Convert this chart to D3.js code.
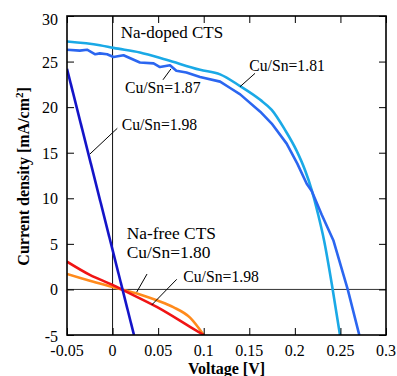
<!DOCTYPE html>
<html>
<head>
<meta charset="utf-8">
<script src="https://cdn.jsdelivr.net/npm/d3@7"></script>
<style>
  html, body { margin: 0; padding: 0; background: #fff; }
  svg { display: block; }
</style>
</head>
<body>
<svg id="chart" width="397" height="376"></svg>
<script>
// ---- data ----
const xTicks = [-0.05, 0, 0.05, 0.1, 0.15, 0.2, 0.25, 0.3];
const yTicks = [-5, 0, 5, 10, 15, 20, 25, 30];
const xTickLabels = ["-0.05", "0", "0.05", "0.1", "0.15", "0.2", "0.25", "0.3"];
const yTickLabels = ["-5", "0", "5", "10", "15", "20", "25", "30"];

const seriesNames = ["Na-doped Cu/Sn=1.81", "Na-doped Cu/Sn=1.87", "Na-doped Cu/Sn=1.98", "Na-free Cu/Sn=1.80", "Na-free Cu/Sn=1.98"];

const v181 = [-0.05, -0.014, 0.001, 0.030, 0.059, 0.096, 0.118, 0.140, 0.162, 0.1746, 0.1892, 0.202, 0.2111, 0.2185, 0.2257, 0.232, 0.2415, 0.2495];
const j181 = [27.2, 26.8, 26.5, 26.0, 25.2, 24.1, 23.6, 22.3, 20.8, 19.7, 17.5, 15.2, 13.1, 10.9, 8.16, 5.4, 0, -5];

const v187 = [-0.05, -0.036, -0.028, -0.019, -0.014, -0.006, 0.001, 0.012, 0.030, 0.045, 0.052, 0.063, 0.070, 0.081, 0.096, 0.118, 0.129, 0.140, 0.162, 0.1746, 0.191, 0.2027, 0.213, 0.2185, 0.2295, 0.2422, 0.258, 0.2707];
const j187 = [26.3, 26.2, 26.3, 25.8, 25.9, 25.8, 25.5, 25.7, 24.9, 24.8, 24.4, 24.6, 24.0, 23.8, 23.3, 22.8, 22.1, 21.4, 19.5, 18.2, 16.0, 13.8, 11.6, 10.8, 8.2, 5.4, 0, -5];

const v198d = [-0.05, 0.0235];
const j198d = [24.2, -5];

const v180f = [-0.05, -0.025, 0.001, 0.012, 0.049, 0.085, 0.1];
const j180f = [3.05, 1.6, 0.45, -0.1, -1.95, -4.1, -5.0];

const v198f = [-0.05, -0.025, 0.001, 0.012, 0.03, 0.05, 0.0666, 0.085, 0.1];
const j198f = [1.7, 0.95, 0.25, -0.05, -0.55, -1.25, -1.95, -3.1, -5];

const seriesColors = ["#1aa9e6", "#2b66f0", "#1414c8", "#f01414", "#ff8a1c"];

// annotation texts and anchor positions (data units)
const labelTexts = ["Na-doped CTS", "Cu/Sn=1.87", "Cu/Sn=1.81", "Cu/Sn=1.98", "Na-free CTS", "Cu/Sn=1.80", "Cu/Sn=1.98"];
const labelV = [0.0089, 0.0136, 0.150, 0.010, 0.0155, 0.0155, 0.0776];
const labelJ = [27.6, 21.5, 23.96, 17.49, 5.53, 3.48, 0.845];
const labelSize = [17, 15.7, 15.7, 15.7, 17.4, 17.4, 15.7];

const leaderV1 = [0.0553, 0.1398, -0.0248, 0.0265, 0.0429];
const leaderJ1 = [23.0, 22.24, 14.86, -0.29, -1.71];
const leaderV2 = [0.0641, 0.1563, 0.0052, 0.0378, 0.0704];
const leaderJ2 = [24.2, 23.71, 17.68, 1.69, 1.11];

// ---- layout ----
const W = 397, H = 376;
const FONT = "'Liberation Serif', 'Times New Roman', serif";
const margin = { left: 67, right: 11, top: 16, bottom: 41 };
const iw = W - margin.left - margin.right;
const ih = H - margin.top - margin.bottom;

const svg = d3.select("#chart");
const g = svg.append("g").attr("transform", `translate(${margin.left},${margin.top})`);

const x = d3.scaleLinear().domain([-0.05, 0.3]).range([0, iw]);
const y = d3.scaleLinear().domain([-5, 30]).range([ih, 0]);

g.append("clipPath").attr("id", "clip")
  .append("rect").attr("x", 0).attr("y", 0).attr("width", iw).attr("height", ih);

// zero lines
g.append("line").attr("x1", 0).attr("x2", iw).attr("y1", y(0)).attr("y2", y(0))
  .attr("stroke", "#333").attr("stroke-width", 1);
g.append("line").attr("x1", x(0)).attr("x2", x(0)).attr("y1", 0).attr("y2", ih)
  .attr("stroke", "#111").attr("stroke-width", 1);

// series
const series = [
  { v: v181, j: j181, curve: d3.curveMonotoneX },
  { v: v187, j: j187, curve: d3.curveLinear },
  { v: v198d, j: j198d, curve: d3.curveLinear },
  { v: v180f, j: j180f, curve: d3.curveMonotoneX },
  { v: v198f, j: j198f, curve: d3.curveMonotoneX }
];
const plot = g.append("g").attr("clip-path", "url(#clip)");
const drawOrder = [4, 3, 2, 0, 1];
drawOrder.forEach(i => {
  const s = series[i];
  const pts = s.v.map((vv, k) => [vv, s.j[k]]);
  const line = d3.line().x(d => x(d[0])).y(d => y(d[1])).curve(s.curve);
  plot.append("path").datum(pts)
    .attr("d", line)
    .attr("fill", "none")
    .attr("stroke", seriesColors[i])
    .attr("stroke-width", 2.6)
    .attr("stroke-linejoin", "round")
    .attr("stroke-linecap", "butt")
    .attr("data-name", seriesNames[i]);
});

// leaders
leaderV1.forEach((v1, i) => {
  g.append("line")
    .attr("x1", x(v1)).attr("y1", y(leaderJ1[i]))
    .attr("x2", x(leaderV2[i])).attr("y2", y(leaderJ2[i]))
    .attr("stroke", "#000").attr("stroke-width", 1);
});

// labels
labelTexts.forEach((t, i) => {
  g.append("text")
    .attr("x", x(labelV[i])).attr("y", y(labelJ[i]))
    .style("font-family", FONT)
    .attr("font-size", labelSize[i])
    .text(t);
});

// axes with inward ticks on all four sides
const tickLen = 7;
const xAxisB = d3.axisBottom(x).tickValues(xTicks).tickSize(-tickLen).tickFormat("");
const xAxisT = d3.axisTop(x).tickValues(xTicks).tickSize(-tickLen).tickFormat("");
const yAxisL = d3.axisLeft(y).tickValues(yTicks).tickSize(-tickLen).tickFormat("");
const yAxisR = d3.axisRight(y).tickValues(yTicks).tickSize(-tickLen).tickFormat("");

function styleAxis(sel) {
  sel.select(".domain").remove();
  sel.selectAll(".tick line").attr("stroke", "#000").attr("stroke-width", 1);
}
g.append("g").attr("transform", `translate(0,${ih})`).call(xAxisB).call(styleAxis);
g.append("g").call(xAxisT).call(styleAxis);
g.append("g").call(yAxisL).call(styleAxis);
g.append("g").attr("transform", `translate(${iw},0)`).call(yAxisR).call(styleAxis);

// frame
g.append("rect").attr("x", 0).attr("y", 0).attr("width", iw).attr("height", ih)
  .attr("fill", "none").attr("stroke", "#000").attr("stroke-width", 1.6);

// tick labels
xTicks.forEach((t, i) => {
  g.append("text")
    .attr("x", x(t)).attr("y", ih + 21)
    .attr("text-anchor", "middle")
    .style("font-family", FONT)
    .attr("font-size", 16)
    .text(xTickLabels[i]);
});
yTicks.forEach((t, i) => {
  let yy = y(t) + 6;
  if (t === 30) yy = y(t) + 9;
  if (t === -5) yy = y(t) + 6.5;
  g.append("text")
    .attr("x", -9).attr("y", yy)
    .attr("text-anchor", "end")
    .style("font-family", FONT)
    .attr("font-size", 16)
    .text(yTickLabels[i]);
});

// axis titles
svg.append("text")
  .attr("x", margin.left + x(0.125)).attr("y", 374)
  .attr("text-anchor", "middle")
  .style("font-family", FONT)
  .attr("font-size", 16).attr("font-weight", "bold")
  .text("Voltage [V]");

const yt = svg.append("text")
  .attr("transform", `translate(29,${margin.top + y(12.4)}) rotate(-90)`)
  .attr("text-anchor", "middle")
  .style("font-family", FONT)
  .attr("font-size", 16).attr("font-weight", "bold");
yt.append("tspan").text("Current density [mA/cm");
yt.append("tspan").attr("font-size", 11).attr("dy", -6).text("2");
yt.append("tspan").attr("dy", 6).text("]");
</script>
</body>
</html>
